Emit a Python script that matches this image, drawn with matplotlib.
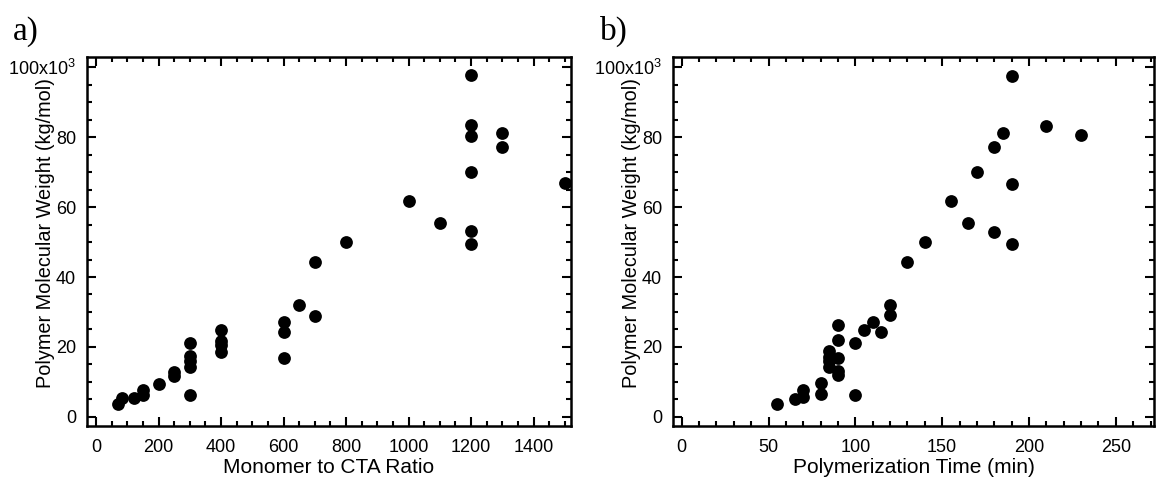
import matplotlib
matplotlib.use("Agg")
import matplotlib.pyplot as plt
from matplotlib.ticker import MultipleLocator, FixedLocator, FixedFormatter

# ---------- data ----------
ratio = [70, 82, 120, 150, 150, 200, 250, 250,
         300, 300, 300, 300, 300,
         400, 400, 400, 400,
         600, 600, 600, 650, 700, 700, 800, 1000, 1100,
         1200, 1200, 1200, 1200, 1200, 1200, 1300, 1300, 1500]
mw_ratio = [3.6, 5.3, 5.5, 6.3, 7.6, 9.4, 11.8, 12.8,
            21.0, 17.3, 16.0, 14.4, 6.3,
            24.9, 21.8, 20.5, 18.7,
            27.0, 24.4, 16.7, 32.0, 44.4, 28.9, 49.9, 61.8, 55.5,
            97.7, 83.4, 80.4, 70.1, 53.1, 49.4, 81.2, 77.1, 66.8]

ptime = [55, 65, 70, 70, 80, 80,
         85, 85, 85, 85,
         90, 90, 90, 90, 90,
         100, 100, 105, 110, 115, 120, 120, 130, 140, 155, 165, 170,
         180, 180, 185, 190, 190, 190, 210, 230]
mw_time = [3.6, 5.0, 7.6, 5.7, 9.8, 6.6,
           18.8, 17.2, 16.0, 14.2,
           26.4, 22.0, 16.8, 13.0, 12.0,
           21.2, 6.4, 24.8, 27.1, 24.4, 32.1, 29.0, 44.4, 49.9, 61.8, 55.5, 70.1,
           77.1, 52.9, 81.1, 97.6, 66.7, 49.3, 83.3, 80.5]

y_ticks = [0, 20, 40, 60, 80, 100]
y_ticklabels = ["0", "20", "40", "60", "80", "100x10$^3$"]

plt.rcParams["font.family"] = ["Liberation Sans", "DejaVu Sans"]
plt.rcParams["mathtext.fontset"] = "custom"
plt.rcParams["mathtext.rm"] = "Liberation Sans"


def style_axes(ax, xmajor, xminor):
    for s in ax.spines.values():
        s.set_linewidth(1.8)
    ax.yaxis.set_major_locator(FixedLocator(y_ticks))
    ax.yaxis.set_major_formatter(FixedFormatter(y_ticklabels))
    ax.yaxis.set_minor_locator(MultipleLocator(5))
    ax.xaxis.set_major_locator(MultipleLocator(xmajor))
    ax.xaxis.set_minor_locator(MultipleLocator(xminor))
    ax.tick_params(which="both", direction="in", top=True, right=True, width=1.5)
    ax.tick_params(axis="x", labelsize=13, pad=9)
    ax.tick_params(axis="y", labelsize=13, pad=8)
    ax.tick_params(which="major", length=6.5)
    ax.tick_params(which="minor", length=3.5)
    ax.set_ylim(-2.6, 102.9)
    ax.set_ylabel("Polymer Molecular Weight (kg/mol)", fontsize=14.3)
    ax.yaxis.set_label_coords(-0.066, 0.524)


fig = plt.figure(figsize=(11.56, 4.87), dpi=100)
ax1 = fig.add_axes([87 / 1156, 1 - 426 / 487, (571 - 87) / 1156, (426 - 57) / 487])
ax2 = fig.add_axes([673 / 1156, 1 - 426 / 487, (1154 - 673) / 1156, (426 - 57) / 487])

ax1.plot(ratio, mw_ratio, "o", color="black", markersize=9.2, markeredgewidth=0)
style_axes(ax1, 200, 50)
ax1.set_xlim(-29, 1520)
ax1.set_xlabel("Monomer to CTA Ratio", fontsize=15, labelpad=2)

ax2.plot(ptime, mw_time, "o", color="black", markersize=9.2, markeredgewidth=0)
style_axes(ax2, 50, 10)
ax2.set_xlim(-5, 272)
ax2.set_xlabel("Polymerization Time (min)", fontsize=15, labelpad=2)

fig.text(13 / 1156, 1 - 40 / 487, "a)", fontsize=24, family="Liberation Serif")
fig.text(600 / 1156, 1 - 40 / 487, "b)", fontsize=24, family="Liberation Serif")

fig.savefig("out.png", dpi=100)
